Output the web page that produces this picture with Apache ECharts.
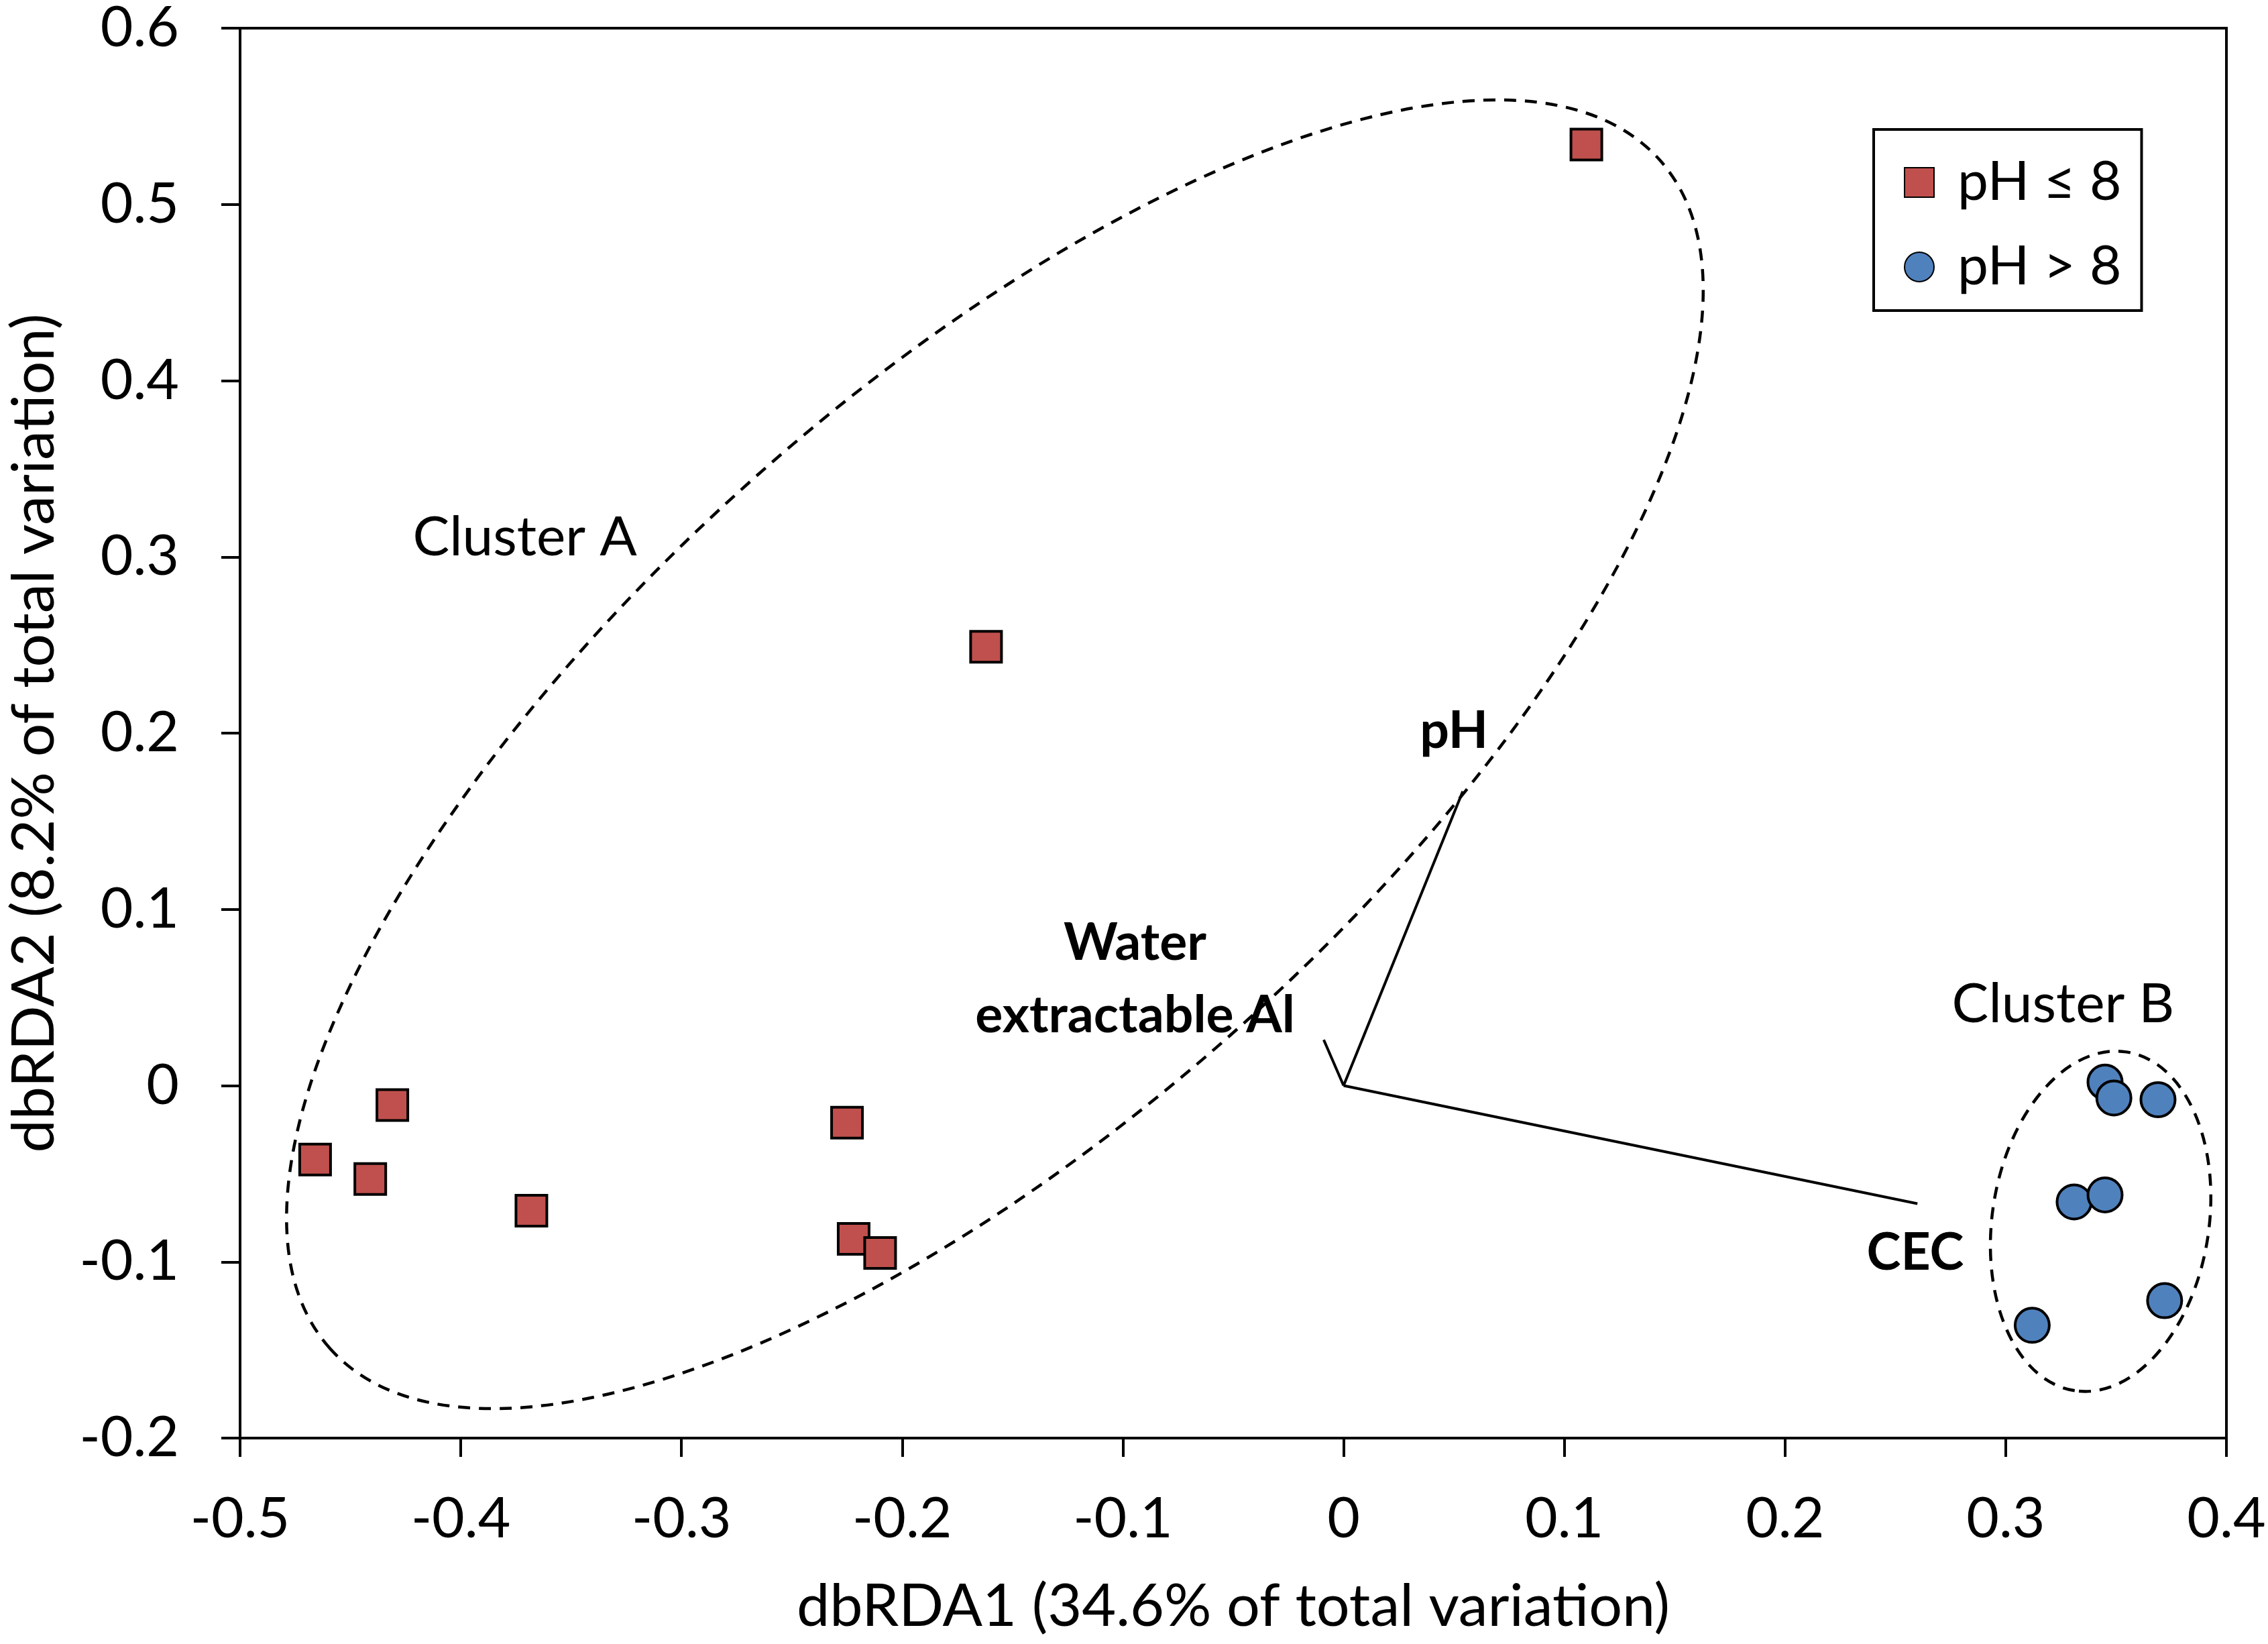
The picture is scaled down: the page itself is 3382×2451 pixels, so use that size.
<!DOCTYPE html>
<html><head><meta charset="utf-8">
<script src="https://cdn.jsdelivr.net/npm/echarts@6/dist/echarts.min.js"></script>
<style>html,body{margin:0;padding:0;background:#fff}#chart{width:3382px;height:2451px}</style>
</head><body><div id="chart"></div>
<script>
// ---- axis ranges ----
const xMin = -0.5, xMax = 0.4, xStep = 0.1;
const yMin = -0.2, yMax = 0.6, yStep = 0.1;
const xAxisTitle = 'dbRDA1 (34.6% of total variation)';
const yAxisTitle = 'dbRDA2 (8.2% of total variation)';

// ---- samples ----
const seriesNames = ['pH \u2264 8', 'pH > 8'];
const lowPhX = [0.110, -0.162, -0.466, -0.431, -0.441, -0.368, -0.225, -0.222, -0.210];
const lowPhY = [0.534, 0.249, -0.042, -0.011, -0.053, -0.071, -0.021, -0.087, -0.095];
const highPhX = [0.345, 0.349, 0.369, 0.331, 0.345, 0.312, 0.372];
const highPhY = [0.002, -0.007, -0.008, -0.066, -0.062, -0.136, -0.122];

// ---- environmental vectors ----
const vectorLabels = ['pH', 'CEC', 'Water\nextractable Al'];
const vectorX = [0.054, 0.260, -0.009];
const vectorY = [0.167, -0.067, 0.026];
const vectorLabelX = [0.050, 0.259, -0.0945];
const vectorLabelY = [0.201, -0.095, 0.0604];

// ---- clusters (ellipse centre, semi-axes in x-axis units, tilt in degrees) ----
const clusterLabels = ['Cluster A', 'Cluster B'];
const clusterLabelX = [-0.371, 0.326];
const clusterLabelY = [0.311, 0.046];
const clusterCenterX = [-0.158, 0.343];
const clusterCenterY = [0.188, -0.077];
const clusterMajor = [0.404, 0.0776];
const clusterMinor = [0.166, 0.0491];
const clusterAngle = [41.8, 81.3];

const FONT = 'Lato';
const chart = echarts.init(document.getElementById('chart'), null, {renderer: 'canvas'});

const pairs = (xs, ys) => xs.map((x, i) => [x, ys[i]]);

const option = {
  backgroundColor: '#ffffff',
  animation: false,
  grid: {left: 351, right: 62, top: 40, bottom: 307, show: true, borderColor: '#000', borderWidth: 4, backgroundColor: 'transparent'},
  legend: {
    orient: 'vertical', left: 2794, top: 193,
    padding: [38, 30, 24, 45],
    borderColor: '#000', borderWidth: 4, backgroundColor: '#fff',
    itemWidth: 44, itemHeight: 44, itemGap: 44,
    textStyle: {fontFamily: FONT, fontSize: 82, color: '#000', lineHeight: 82, padding: [0, 0, 0, 30]},
    data: seriesNames
  },
  xAxis: {
    type: 'value', min: xMin, max: xMax, interval: xStep,
    name: xAxisTitle, nameLocation: 'middle', nameGap: 208,
    nameTextStyle: {fontFamily: FONT, fontSize: 88, color: '#000'},
    axisLine: {show: true, onZero: false, lineStyle: {color: '#000', width: 4}},
    axisTick: {show: true, inside: false, length: 28, lineStyle: {color: '#000', width: 4}},
    axisLabel: {margin: 79, fontFamily: FONT, fontSize: 84, color: '#000'},
    splitLine: {show: false}
  },
  yAxis: {
    type: 'value', min: yMin, max: yMax, interval: yStep,
    name: yAxisTitle, nameLocation: 'middle', nameGap: 262,
    nameTextStyle: {fontFamily: FONT, fontSize: 88, color: '#000'},
    axisLine: {show: true, onZero: false, lineStyle: {color: '#000', width: 4}},
    axisTick: {show: true, inside: false, length: 28, lineStyle: {color: '#000', width: 4}},
    axisLabel: {margin: 91, fontFamily: FONT, fontSize: 84, color: '#000'},
    splitLine: {show: false}
  },
  series: [
    {
      name: 'clusters', type: 'custom', silent: true, z: 1,
      data: clusterCenterX.map((x, i) => [x, clusterCenterY[i], clusterMajor[i], clusterMinor[i], clusterAngle[i]]),
      renderItem: function (params, api) {
        const c = api.coord([api.value(0), api.value(1)]);
        const unit = api.size([1, 0])[0];
        return {
          type: 'ellipse', x: c[0], y: c[1], rotation: api.value(4) * Math.PI / 180,
          shape: {cx: 0, cy: 0, rx: api.value(2) * unit, ry: api.value(3) * unit},
          style: {fill: null, stroke: '#000', lineWidth: 4.5, lineDash: [18, 13]}
        };
      }
    },
    {
      name: 'vectors', type: 'lines', coordinateSystem: 'cartesian2d', silent: true, z: 2,
      symbol: 'none',
      lineStyle: {color: '#000', width: 4, opacity: 1},
      data: vectorX.map((x, i) => ({coords: [[0, 0], [x, vectorY[i]]]}))
    },
    {
      name: 'clusterLabels', type: 'custom', silent: true, z: 3,
      data: clusterLabelX.map((x, i) => [x, clusterLabelY[i], i]),
      renderItem: function (params, api) {
        const c = api.coord([api.value(0), api.value(1)]);
        return {type: 'text', x: c[0], y: c[1], style: {text: clusterLabels[api.value(2)], fill: '#000', fontFamily: FONT, fontSize: 82, align: 'center', verticalAlign: 'middle'}};
      }
    },
    {
      name: 'vectorLabels', type: 'custom', silent: true, z: 3,
      data: vectorLabelX.map((x, i) => [x, vectorLabelY[i], i]),
      renderItem: function (params, api) {
        const c = api.coord([api.value(0), api.value(1)]);
        return {type: 'text', x: c[0], y: c[1], style: {text: vectorLabels[api.value(2)], fill: '#000', fontFamily: FONT, fontWeight: 'bold', fontSize: 77, lineHeight: 108, align: 'center', verticalAlign: 'middle'}};
      }
    },
    {
      name: seriesNames[0], type: 'scatter', z: 4,
      symbol: 'rect', symbolSize: 46,
      itemStyle: {color: '#C0504D', borderColor: '#000', borderWidth: 4, opacity: 1},
      data: pairs(lowPhX, lowPhY)
    },
    {
      name: seriesNames[1], type: 'scatter', z: 4,
      symbol: 'circle', symbolSize: 51,
      itemStyle: {color: '#4F81BD', borderColor: '#000', borderWidth: 4, opacity: 1},
      data: pairs(highPhX, highPhY)
    }
  ]
};
chart.setOption(option);
</script>
</body></html>
